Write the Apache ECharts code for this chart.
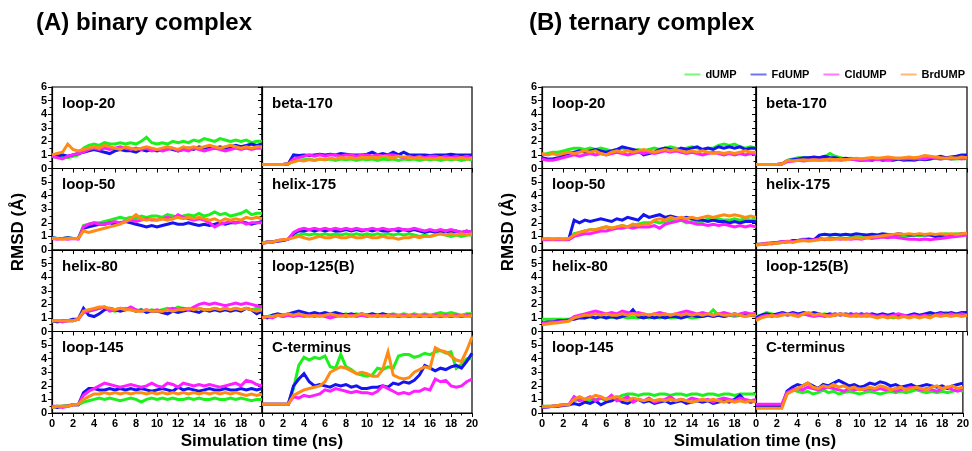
<!DOCTYPE html>
<html>
<head>
<meta charset="utf-8">
<script src="https://cdn.jsdelivr.net/npm/echarts@6/dist/echarts.min.js"></script>
<style>
html,body{margin:0;padding:0;background:#fff;}
#chart{width:972px;height:451px;}
</style>
</head>
<body>
<div id="chart"></div>
<script>
// ---------- data ----------
const time = [0,0.5,1,1.5,2,2.5,3,3.5,4,4.5,5,5.5,6,6.5,7,7.5,8,8.5,9,9.5,10,10.5,11,11.5,12,12.5,13,13.5,14,14.5,15,15.5,16,16.5,17,17.5,18,18.5,19,19.5,20];
const xTicks = [0,2,4,6,8,10,12,14,16,18,20];
const yTicks = [0,1,2,3,4,5,6];
const seriesNames = ['dUMP','FdUMP','CldUMP','BrdUMP'];
const panelNames = ['loop-20','beta-170','loop-50','helix-175','helix-80','loop-125(B)','loop-145','C-terminus'];
const complexTitles = ['(A) binary complex','(B) ternary complex'];

// (A) binary complex
const A_loop20_dUMP   = [0.9,0.8,0.85,0.8,0.9, 1.0,1.5,1.7,1.8,1.7, 1.9,1.8,1.8,1.9,1.8, 1.9,1.8,2.0,2.3,1.9, 1.8,1.9,1.8,2.0,1.9, 2.0,1.9,2.1,2.0,2.2, 2.1,2.0,2.2,2.1,2.0, 2.1,2.0,2.1,1.9,2.0, 2.0];
const A_loop20_FdUMP  = [1.0,0.9,1.0,0.9,1.0, 1.1,1.2,1.3,1.4,1.3, 1.2,1.1,1.3,1.4,1.3, 1.3,1.2,1.4,1.3,1.4, 1.3,1.4,1.5,1.4,1.3, 1.4,1.5,1.4,1.6,1.5, 1.6,1.5,1.6,1.5,1.6, 1.7,1.6,1.7,1.8,1.7, 1.8];
const A_loop20_CldUMP = [0.9,0.8,0.7,0.9,1.0, 1.1,1.2,1.4,1.5,1.4, 1.5,1.4,1.5,1.6,1.5, 1.4,1.5,1.4,1.5,1.3, 1.4,1.3,1.4,1.5,1.3, 1.4,1.3,1.5,1.4,1.3, 1.4,1.5,1.4,1.3,1.4, 1.5,1.4,1.5,1.4,1.5, 1.5];
const A_loop20_BrdUMP = [1.0,1.1,1.2,1.8,1.4, 1.3,1.4,1.5,1.6,1.5, 1.7,1.6,1.5,1.4,1.6, 1.5,1.4,1.5,1.6,1.5, 1.4,1.5,1.6,1.5,1.4, 1.6,1.5,1.6,1.5,1.6, 1.7,1.6,1.5,1.6,1.7, 1.6,1.5,1.6,1.5,1.6, 1.6];

const A_beta170_dUMP   = [0.3,0.3,0.3,0.3,0.3, 0.35,0.5,0.6,0.65,0.7, 0.6,0.7,0.65,0.7,0.6, 0.7,0.65,0.7,0.6,0.7, 0.65,0.7,0.6,0.7,0.65, 0.7,0.6,0.7,0.65,0.7, 0.6,0.7,0.65,0.7,0.6, 0.7,0.65,0.7,0.6,0.7, 0.65];
const A_beta170_FdUMP  = [0.3,0.3,0.3,0.3,0.3, 0.35,1.0,0.95,1.0,0.95, 1.0,1.05,1.0,1.05,1.0, 1.1,1.05,1.0,1.0,1.0, 1.05,1.2,1.0,1.1,1.0, 1.2,1.0,1.2,1.0,1.0, 1.0,1.0,0.95,1.0,1.0, 1.0,1.05,1.0,1.0,1.0, 1.0];
const A_beta170_CldUMP = [0.3,0.3,0.3,0.3,0.3, 0.35,0.7,0.8,0.9,1.0, 0.9,1.0,0.9,1.0,1.0, 0.9,1.0,1.0,0.9,1.0, 1.0,0.9,1.0,0.9,1.0, 1.0,0.9,0.8,0.9,0.8, 0.9,0.8,0.9,0.9,0.8, 0.9,0.8,0.9,0.8,0.9, 0.8];
const A_beta170_BrdUMP = [0.3,0.3,0.3,0.3,0.3, 0.35,0.5,0.6,0.55,0.65, 0.6,0.7,0.65,0.75,0.7, 0.8,0.75,0.8,0.7,0.85, 0.8,0.85,0.8,0.9,0.85, 0.8,0.9,0.85,0.8,0.75, 0.8,0.7,0.75,0.7,0.8, 0.7,0.75,0.7,0.8,0.7, 0.75];

const A_loop50_dUMP   = [0.9,0.85,0.85,0.9,0.85, 0.85,1.8,1.9,2.0,2.0, 2.1,2.2,2.3,2.4,2.3, 2.4,2.3,2.5,2.4,2.5, 2.5,2.4,2.6,2.5,2.4, 2.5,2.6,2.5,2.7,2.5, 2.6,2.8,2.6,2.7,2.5, 2.6,2.7,2.9,2.6,2.7, 2.7];
const A_loop50_FdUMP  = [0.9,0.85,0.85,0.9,0.85, 0.85,1.6,1.7,1.8,1.9, 1.9,2.0,1.9,2.0,2.1, 2.0,1.9,1.8,1.7,1.8, 1.7,1.8,1.9,2.0,1.9, 1.9,2.0,1.9,1.8,1.9, 1.8,1.9,2.0,1.9,2.0, 2.0,2.1,2.0,1.9,2.0, 2.1];
const A_loop50_CldUMP = [0.85,0.8,0.85,0.8,0.85, 0.8,1.7,1.9,2.0,1.9, 1.9,2.0,2.1,2.0,2.1, 2.2,2.1,2.2,2.3,2.2, 2.2,2.3,2.4,2.3,2.6, 2.4,2.3,2.2,2.3,2.2, 2.0,1.7,1.9,2.0,2.1, 2.0,2.1,1.9,2.0,2.0, 2.0];
const A_loop50_BrdUMP = [0.85,0.85,0.8,0.85,0.85, 0.85,1.4,1.3,1.4,1.5, 1.6,1.7,1.8,1.9,2.1, 2.3,2.6,2.3,2.2,2.3, 2.2,2.3,2.2,2.3,2.4, 2.3,2.4,2.3,2.4,2.3, 2.2,2.3,2.1,2.3,2.2, 2.3,2.2,2.4,2.3,2.4, 2.3];

const A_helix175_dUMP   = [0.5,0.6,0.6,0.7,0.7, 0.8,1.0,1.1,1.2,1.1, 1.2,1.1,1.2,1.1,1.2, 1.1,1.2,1.1,1.2,1.1, 1.2,1.1,1.2,1.1,1.2, 1.1,1.2,1.1,1.2,1.1, 1.0,1.1,1.0,1.1,1.2, 1.1,1.0,1.1,1.0,1.1, 1.1];
const A_helix175_FdUMP  = [0.5,0.55,0.6,0.65,0.7, 0.8,1.2,1.4,1.4,1.5, 1.4,1.5,1.4,1.5,1.4, 1.4,1.5,1.4,1.5,1.4, 1.5,1.4,1.5,1.4,1.4, 1.5,1.4,1.5,1.4,1.5, 1.4,1.3,1.4,1.3,1.3, 1.4,1.3,1.4,1.3,1.4, 1.3];
const A_helix175_CldUMP = [0.5,0.6,0.55,0.7,0.75, 0.8,1.3,1.5,1.6,1.5, 1.6,1.5,1.6,1.5,1.6, 1.5,1.6,1.5,1.6,1.5, 1.5,1.6,1.5,1.6,1.5, 1.5,1.6,1.5,1.5,1.6, 1.5,1.4,1.5,1.4,1.5, 1.4,1.5,1.4,1.3,1.4, 1.3];
const A_helix175_BrdUMP = [0.5,0.55,0.6,0.7,0.75, 0.8,0.9,1.0,0.9,0.8, 0.9,1.0,0.9,0.9,1.0, 0.9,0.9,1.0,0.9,0.9, 1.0,0.9,0.9,1.0,0.9, 0.9,0.8,0.9,0.9,1.0, 0.9,1.0,1.0,1.1,1.2, 1.1,1.2,1.1,1.2,1.1, 1.2];

const A_helix80_dUMP   = [0.7,0.8,0.8,0.8,0.8, 0.9,1.5,1.5,1.6,1.7, 1.8,1.6,1.5,1.6,1.7, 1.6,1.5,1.6,1.5,1.6, 1.5,1.6,1.7,1.6,1.8, 1.7,1.7,1.6,1.7,1.6, 1.6,1.7,1.6,1.7,1.6, 1.7,1.6,1.7,1.6,1.7, 1.6];
const A_helix80_FdUMP  = [0.8,0.7,0.8,0.8,0.9, 0.9,1.7,1.2,1.1,1.3, 1.6,1.7,1.6,1.5,1.6, 1.7,1.5,1.6,1.4,1.5, 1.5,1.4,1.3,1.5,1.4, 1.5,1.6,1.5,1.4,1.6, 1.5,1.6,1.5,1.6,1.5, 1.6,1.5,1.7,1.6,1.3, 1.5];
const A_helix80_CldUMP = [0.8,0.8,0.7,0.8,0.8, 0.9,1.4,1.5,1.6,1.7, 1.8,1.5,1.6,1.7,1.6, 1.8,1.6,1.5,1.6,1.5, 1.6,1.5,1.6,1.7,1.6, 1.7,1.6,1.8,2.0,2.1, 2.0,2.1,2.0,1.9,2.0, 2.1,2.0,2.1,2.0,1.9, 1.8];
const A_helix80_BrdUMP = [0.8,0.8,0.8,0.8,0.8, 0.9,1.5,1.6,1.7,1.8, 1.8,1.7,1.6,1.7,1.6, 1.6,1.5,1.5,1.6,1.5, 1.5,1.5,1.6,1.5,1.6, 1.6,1.7,1.6,1.7,1.6, 1.6,1.7,1.6,1.7,1.6, 1.7,1.6,1.7,1.6,1.5, 1.6];

const A_loop125_dUMP   = [1.0,1.1,1.2,1.2,1.1, 1.2,1.3,1.2,1.3,1.2, 1.3,1.2,1.3,1.2,1.3, 1.2,1.3,1.2,1.3,1.2, 1.2,1.3,1.2,1.3,1.2, 1.3,1.2,1.3,1.2,1.3, 1.2,1.3,1.2,1.3,1.4, 1.3,1.4,1.3,1.2,1.3, 1.3];
const A_loop125_FdUMP  = [1.1,1.0,1.2,1.3,1.2, 1.3,1.4,1.5,1.4,1.3, 1.4,1.3,1.4,1.3,1.4, 1.3,1.2,1.3,1.2,1.3, 1.2,1.3,1.2,1.3,1.2, 1.2,1.1,1.2,1.1,1.2, 1.1,1.2,1.1,1.2,1.1, 1.2,1.1,1.2,1.1,1.2, 1.2];
const A_loop125_CldUMP = [1.0,1.1,1.0,1.2,1.1, 1.2,1.1,1.2,1.1,1.2, 1.1,1.2,1.1,1.0,1.1, 1.2,1.1,1.2,1.1,1.2, 1.1,1.2,1.1,1.2,1.1, 1.2,1.1,1.2,1.1,1.2, 1.1,1.2,1.1,1.2,1.1, 1.2,1.1,1.2,1.1,1.2, 1.1];
const A_loop125_BrdUMP = [1.0,1.1,1.1,1.2,1.2, 1.3,1.2,1.3,1.2,1.1, 1.2,1.1,1.2,1.3,1.2, 1.1,1.2,1.1,1.2,1.3, 1.2,1.1,1.2,1.1,1.2, 1.1,1.2,1.1,1.2,1.1, 1.2,1.1,1.2,1.1,1.2, 1.1,1.2,1.1,1.2,1.1, 1.2];

const A_loop145_dUMP   = [0.4,0.5,0.5,0.55,0.6, 0.6,0.8,0.9,1.0,1.1, 1.0,1.1,1.0,0.9,1.0, 1.1,1.0,0.8,1.0,1.1, 1.0,1.1,1.0,1.1,1.0, 1.0,1.1,1.0,1.1,1.0, 1.0,1.1,1.0,1.0,1.1, 1.0,1.1,1.0,0.9,1.0, 1.0];
const A_loop145_FdUMP  = [0.5,0.4,0.5,0.5,0.6, 0.6,1.5,1.8,1.8,1.7, 1.7,1.8,1.7,1.8,1.7, 1.8,1.7,1.8,1.7,1.6, 1.7,1.8,1.7,1.6,1.9, 1.7,1.8,1.7,1.6,1.7, 1.8,1.7,1.7,1.8,1.7, 1.7,1.8,1.7,1.8,1.7, 1.8];
const A_loop145_CldUMP = [0.5,0.5,0.4,0.5,0.6, 0.6,1.3,1.6,1.8,2.0, 2.2,2.1,2.0,1.9,2.0, 2.1,2.0,1.9,2.0,2.2, 2.0,1.9,2.2,2.1,1.9, 2.2,2.1,2.0,2.1,2.0, 2.1,2.0,1.9,2.0,2.1, 2.2,2.0,2.4,2.3,2.1, 2.0];
const A_loop145_BrdUMP = [0.4,0.5,0.5,0.5,0.6, 0.65,1.0,1.2,1.4,1.4, 1.5,1.4,1.5,1.4,1.5, 1.4,1.5,1.5,1.4,1.5, 1.4,1.5,1.4,1.5,1.4, 1.5,1.4,1.5,1.4,1.5, 1.4,1.5,1.4,1.5,1.4, 1.5,1.4,1.3,1.4,1.3, 1.4];

const A_cterm_dUMP   = [0.65,0.65,0.65,0.65,0.65, 0.65,1.8,3.5,4.1,3.9, 4.1,4.0,4.2,3.4,3.3, 4.3,3.4,3.2,2.9,2.8, 2.7,2.8,3.3,3.2,3.4, 3.3,4.2,4.3,4.3,4.1, 4.2,4.4,4.3,4.5,4.6, 4.4,4.5,3.3,3.6,4.0, 4.0];
const A_cterm_FdUMP  = [0.65,0.65,0.65,0.65,0.65, 0.65,2.0,2.5,2.9,2.3, 2.0,2.1,2.0,1.9,2.1, 2.0,2.1,1.9,2.0,1.8, 1.8,1.9,1.9,2.0,1.9, 2.2,2.1,2.3,2.2,2.4, 2.8,3.5,3.3,3.1,3.3, 3.2,3.4,3.5,3.3,3.8, 4.4];
const A_cterm_CldUMP = [0.65,0.65,0.65,0.65,0.65, 0.65,1.2,1.1,1.3,1.2, 1.3,1.4,1.7,1.6,1.8, 1.7,1.6,1.5,1.6,1.5, 1.5,1.4,1.6,2.0,1.8, 1.6,1.4,1.5,1.4,1.6, 1.6,1.8,1.7,2.5,2.3, 2.4,2.0,1.9,2.0,2.3, 2.5];
const A_cterm_BrdUMP = [0.65,0.65,0.65,0.65,0.65, 0.65,1.3,1.5,1.7,1.8, 1.9,2.0,2.3,3.0,3.2, 3.4,3.3,3.1,2.9,3.0, 2.9,2.7,2.7,3.2,4.5, 2.8,2.6,2.5,2.6,3.0, 3.2,3.4,3.3,4.8,4.6, 4.5,4.2,3.9,3.8,4.6, 5.6];

// (B) ternary complex
const B_loop20_dUMP   = [1.0,1.1,1.2,1.2,1.3, 1.4,1.5,1.5,1.4,1.5, 1.4,1.5,1.4,1.3,1.4, 1.5,1.4,1.3,1.4,1.3, 1.4,1.5,1.4,1.5,1.6, 1.5,1.4,1.5,1.6,1.5, 1.4,1.5,1.5,1.7,1.8, 1.7,1.8,1.6,1.5,1.6, 1.5];
const B_loop20_FdUMP  = [0.8,0.7,0.7,0.8,1.0, 1.1,1.2,1.3,1.2,1.3, 1.4,1.3,1.2,1.3,1.4, 1.6,1.5,1.4,1.3,1.0, 1.1,1.2,1.4,1.5,1.4, 1.3,1.5,1.4,1.5,1.6, 1.4,1.5,1.4,1.6,1.5, 1.6,1.5,1.6,1.4,1.5, 1.5];
const B_loop20_CldUMP = [0.7,0.6,0.6,0.7,0.8, 0.9,1.0,0.9,1.0,1.1, 1.0,1.1,1.0,1.1,1.2, 1.1,1.0,1.1,1.2,1.1, 1.2,1.1,1.2,1.3,1.2, 1.3,1.2,1.1,1.2,1.1, 1.0,1.1,1.2,1.1,1.0, 1.1,1.0,1.1,1.0,1.1, 1.0];
const B_loop20_BrdUMP = [1.1,1.0,1.1,1.0,1.1, 1.2,1.1,1.2,1.3,1.2, 1.3,1.1,1.0,1.2,1.3, 1.2,1.3,1.2,1.3,1.4, 1.3,1.2,1.3,1.4,1.3, 1.4,1.3,1.2,1.3,1.2, 1.3,1.2,1.1,1.2,1.1, 1.2,1.1,1.2,1.3,1.2, 1.2];

const B_beta170_dUMP   = [0.3,0.3,0.3,0.3,0.3, 0.35,0.6,0.7,0.8,0.8, 0.8,0.75,0.8,0.85,1.1, 0.9,0.8,0.7,0.75,0.7, 0.7,0.75,0.7,0.75,0.7, 0.7,0.75,0.7,0.75,0.7, 0.7,0.75,0.7,0.7,0.75, 0.7,0.75,0.7,0.7,0.75, 0.7];
const B_beta170_FdUMP  = [0.3,0.3,0.3,0.3,0.3, 0.35,0.6,0.65,0.7,0.8, 0.8,0.85,0.8,0.9,0.8, 0.8,0.7,0.75,0.7,0.65, 0.6,0.65,0.6,0.7,0.6, 0.65,0.6,0.7,0.6,0.65, 0.6,0.7,0.65,0.7,0.8, 0.9,0.8,0.85,0.9,1.0, 1.0];
const B_beta170_CldUMP = [0.3,0.3,0.3,0.3,0.3, 0.35,0.5,0.55,0.6,0.55, 0.6,0.65,0.6,0.65,0.6, 0.65,0.6,0.65,0.7,0.65, 0.6,0.65,0.7,0.65,0.7, 0.65,0.7,0.75,0.7,0.75, 0.7,0.75,0.7,0.8,0.75, 0.7,0.75,0.7,0.75,0.7, 0.75];
const B_beta170_BrdUMP = [0.3,0.3,0.3,0.3,0.3, 0.35,0.6,0.55,0.6,0.65, 0.6,0.65,0.6,0.65,0.7, 0.65,0.7,0.65,0.7,0.75, 0.7,0.75,0.8,0.75,0.8, 0.85,0.8,0.75,0.8,0.85, 0.8,0.85,0.95,0.9,0.85, 0.8,0.75,0.8,0.75,0.85, 0.8];

const B_loop50_dUMP   = [0.8,0.8,0.8,0.8,0.8, 0.8,1.2,1.3,1.4,1.5, 1.5,1.6,1.7,1.6,1.7, 1.8,1.7,1.8,1.9,2.0, 2.0,2.1,2.0,2.1,2.2, 2.1,2.2,2.0,2.1,2.0, 2.1,2.3,2.2,2.3,2.2, 2.2,2.3,2.2,2.3,2.2, 2.3];
const B_loop50_FdUMP  = [0.8,0.8,0.8,0.8,0.8, 0.8,2.2,2.0,2.2,2.1, 2.2,2.3,2.2,2.1,2.3, 2.2,2.4,2.3,2.2,2.6, 2.4,2.5,2.6,2.4,2.5, 2.4,2.3,2.4,2.3,2.2, 2.2,2.1,2.2,2.1,2.1, 2.0,2.1,2.0,2.1,2.1, 2.1];
const B_loop50_CldUMP = [0.75,0.75,0.75,0.75,0.75, 0.75,1.0,1.1,1.2,1.2, 1.3,1.4,1.4,1.5,1.6, 1.6,1.7,1.6,1.7,1.7, 1.7,1.8,1.6,1.9,2.0, 2.1,2.2,2.1,2.0,1.9, 1.9,1.8,1.9,1.8,1.9, 1.8,1.7,1.8,1.7,1.8, 1.7];
const B_loop50_BrdUMP = [0.8,0.85,0.8,0.85,0.8, 0.85,1.1,1.3,1.4,1.5, 1.5,1.6,1.7,1.6,1.7, 1.8,1.7,1.9,1.8,1.9, 1.9,2.2,2.3,2.2,2.4, 2.3,2.4,2.3,2.4,2.3, 2.4,2.5,2.4,2.5,2.6, 2.5,2.6,2.5,2.4,2.5, 2.4];

const B_helix175_dUMP   = [0.4,0.45,0.5,0.55,0.5, 0.55,0.6,0.65,0.7,0.8, 0.75,0.8,0.9,0.8,0.9, 0.85,0.9,0.85,0.9,0.95, 0.9,0.95,0.9,1.0,0.95, 1.0,0.95,1.05,1.0,1.05, 1.1,1.05,1.1,1.15,1.1, 1.15,1.2,1.15,1.2,1.15, 1.2];
const B_helix175_FdUMP  = [0.4,0.4,0.45,0.5,0.55, 0.6,0.6,0.7,0.7,0.75, 0.8,0.75,1.1,1.15,1.1, 1.15,1.1,1.15,1.1,1.2, 1.15,1.1,1.15,1.1,1.2, 1.15,1.1,1.2,1.15,1.1, 1.1,1.15,1.1,1.1,1.0, 1.05,1.1,1.05,1.1,1.2, 1.2];
const B_helix175_CldUMP = [0.4,0.45,0.5,0.45,0.55, 0.6,0.65,0.6,0.7,0.75, 0.7,0.75,0.8,0.75,0.8, 0.85,0.8,0.85,0.8,0.85, 0.8,0.9,0.85,0.9,0.95, 0.9,0.95,0.9,0.85,0.8, 0.8,0.75,0.8,0.75,0.8, 0.85,0.9,0.95,1.0,1.05, 1.1];
const B_helix175_BrdUMP = [0.35,0.4,0.45,0.5,0.5, 0.55,0.6,0.55,0.65,0.7, 0.65,0.7,0.75,0.8,0.75, 0.8,0.85,0.8,0.85,0.9, 0.85,0.9,0.95,1.0,1.05, 1.1,1.15,1.2,1.15,1.2, 1.15,1.2,1.15,1.2,1.15, 1.2,1.15,1.2,1.15,1.2, 1.25];

const B_helix80_dUMP   = [0.9,0.9,0.9,0.9,0.9, 0.9,1.0,1.1,1.0,1.1, 1.0,1.1,1.0,1.05,1.0, 1.1,1.0,1.05,1.0,1.1, 1.0,1.05,1.0,1.1,1.0, 1.05,1.0,1.1,1.0,1.05, 1.1,1.2,1.6,1.2,1.1, 1.2,1.1,1.2,1.1,1.2, 1.1];
const B_helix80_FdUMP  = [0.6,0.7,0.7,0.8,0.8, 0.85,0.9,1.0,1.0,1.1, 1.0,1.1,1.0,1.1,1.0, 1.1,1.2,1.6,1.1,1.0, 1.1,1.0,1.1,1.0,1.1, 1.1,1.0,1.1,1.2,1.1, 1.1,1.2,1.1,1.2,1.1, 1.2,1.3,1.2,1.3,1.2, 1.2];
const B_helix80_CldUMP = [0.6,0.65,0.7,0.7,0.75, 0.8,1.1,1.2,1.3,1.4, 1.5,1.4,1.3,1.4,1.3, 1.5,1.4,1.3,1.4,1.3, 1.2,1.3,1.4,1.3,1.2, 1.3,1.4,1.5,1.4,1.3, 1.4,1.3,1.2,1.3,1.4, 1.3,1.2,1.3,1.4,1.3, 1.3];
const B_helix80_BrdUMP = [0.5,0.55,0.6,0.65,0.7, 0.75,1.0,1.1,1.2,1.2, 1.3,1.2,1.3,1.2,1.2, 1.3,1.2,1.3,1.2,1.3, 1.2,1.3,1.2,1.3,1.2, 1.3,1.2,1.3,1.2,1.3, 1.2,1.3,1.2,1.3,1.2, 1.2,1.3,1.2,1.1,1.2, 1.2];

const B_loop125_dUMP   = [1.1,1.2,1.4,1.3,1.2, 1.3,1.2,1.3,1.2,1.3, 1.2,1.3,1.2,1.3,1.2, 1.3,1.2,1.3,1.2,1.1, 1.2,1.1,1.2,1.1,1.2, 1.1,1.0,1.1,1.2,1.1, 1.2,1.1,1.2,1.3,1.2, 1.3,1.4,1.3,1.2,1.3, 1.3];
const B_loop125_FdUMP  = [1.0,1.2,1.3,1.2,1.3, 1.4,1.3,1.4,1.3,1.4, 1.3,1.4,1.3,1.2,1.3, 1.2,1.3,1.2,1.3,1.2, 1.3,1.2,1.3,1.2,1.3, 1.2,1.3,1.2,1.1,1.2, 1.3,1.2,1.3,1.4,1.3, 1.4,1.3,1.4,1.3,1.4, 1.4];
const B_loop125_CldUMP = [0.9,1.1,1.2,1.1,1.2, 1.3,1.2,1.3,1.2,1.3, 1.2,1.1,1.2,1.1,1.2, 1.3,1.2,1.3,1.2,1.3, 1.2,1.3,1.2,1.1,1.2, 1.1,1.2,1.3,1.2,1.1, 1.2,1.1,1.2,1.1,1.2, 1.3,1.2,1.3,1.2,1.3, 1.2];
const B_loop125_BrdUMP = [0.8,1.0,1.1,1.2,1.1, 1.2,1.3,1.2,1.1,1.3, 1.4,1.2,1.3,1.2,1.1, 1.2,1.3,1.2,1.1,1.2, 1.1,1.2,1.1,1.0,1.1, 1.0,1.1,1.0,1.1,1.0, 1.1,1.0,1.1,1.0,1.2, 1.1,1.2,1.1,1.2,1.1, 1.2];

const B_loop145_dUMP   = [0.5,0.5,0.5,0.55,0.6, 0.6,0.9,1.0,1.0,0.9, 1.0,1.1,0.9,1.0,1.1, 1.3,1.4,1.4,1.3,1.4, 1.4,1.3,1.4,1.4,1.3, 1.4,1.4,1.3,1.4,1.4, 1.3,1.4,1.4,1.3,1.4, 1.4,1.3,1.4,1.4,1.4, 1.4];
const B_loop145_FdUMP  = [0.4,0.45,0.5,0.5,0.55, 0.6,0.7,0.6,0.8,0.7, 0.9,0.6,0.8,0.9,1.1, 0.8,0.7,0.9,1.0,0.8, 0.9,0.7,0.8,0.9,0.7, 0.8,0.9,0.7,0.8,0.9, 0.8,0.9,0.7,0.8,0.9, 0.8,1.0,1.3,0.9,0.8, 0.9];
const B_loop145_CldUMP = [0.5,0.45,0.5,0.55,0.6, 0.6,1.2,0.9,1.0,1.2, 0.9,1.1,1.0,1.3,0.9, 1.0,1.2,0.8,1.0,0.9, 1.1,0.8,0.9,1.0,1.2, 0.9,1.0,0.9,1.1,1.0, 0.9,1.0,0.8,1.0,1.1, 1.0,0.9,1.1,1.0,0.9, 1.0];
const B_loop145_BrdUMP = [0.45,0.5,0.5,0.55,0.6, 0.6,1.0,1.2,1.0,1.1, 1.3,1.2,1.0,1.1,1.2, 1.0,0.9,1.1,1.0,0.9, 1.0,0.9,1.0,0.9,1.0, 0.9,1.0,0.9,0.8,0.9, 1.0,0.9,1.0,0.9,0.8, 0.9,0.8,0.9,0.8,0.9, 0.8];

const B_cterm_dUMP   = [0.45,0.45,0.45,0.45,0.45, 0.45,1.4,1.7,1.6,1.5, 1.6,1.4,1.5,1.7,1.5, 1.6,1.4,1.5,1.6,1.5, 1.4,1.5,1.6,1.5,1.4, 1.5,1.6,1.5,1.6,1.5, 1.6,1.7,1.6,1.5,1.6, 1.5,1.6,1.5,1.6,1.7, 1.6];
const B_cterm_FdUMP  = [0.5,0.5,0.5,0.5,0.5, 0.5,1.6,1.9,2.1,2.0, 2.2,2.0,1.8,2.1,2.0, 2.2,2.4,2.2,2.0,2.1, 1.9,2.0,2.2,2.1,2.3, 2.2,2.0,2.1,1.9,2.0, 2.1,1.9,2.0,2.1,2.0, 1.9,2.0,1.8,2.0,2.1, 2.2];
const B_cterm_CldUMP = [0.65,0.65,0.65,0.65,0.65, 0.65,1.5,1.7,1.8,1.7, 1.9,1.8,1.7,1.8,1.9, 1.8,1.7,1.6,1.8,1.7, 1.8,1.7,1.8,1.7,1.8, 1.7,1.8,1.6,1.7,1.8, 1.9,1.8,1.7,1.8,1.7, 1.6,1.8,1.9,1.7,1.6, 1.8];
const B_cterm_BrdUMP = [0.35,0.35,0.35,0.35,0.35, 0.35,1.4,1.6,1.8,2.0, 2.2,1.9,1.8,2.0,1.9, 2.1,1.9,2.0,1.8,1.9, 1.7,1.8,1.9,1.8,2.0, 1.9,1.7,1.8,1.9,1.7, 1.8,1.9,1.8,1.7,1.9, 2.0,1.8,1.9,2.0,1.8, 1.9];

const panelData = [
  [
    [A_loop20_dUMP, A_loop20_FdUMP, A_loop20_CldUMP, A_loop20_BrdUMP],
    [A_beta170_dUMP, A_beta170_FdUMP, A_beta170_CldUMP, A_beta170_BrdUMP],
    [A_loop50_dUMP, A_loop50_FdUMP, A_loop50_CldUMP, A_loop50_BrdUMP],
    [A_helix175_dUMP, A_helix175_FdUMP, A_helix175_CldUMP, A_helix175_BrdUMP],
    [A_helix80_dUMP, A_helix80_FdUMP, A_helix80_CldUMP, A_helix80_BrdUMP],
    [A_loop125_dUMP, A_loop125_FdUMP, A_loop125_CldUMP, A_loop125_BrdUMP],
    [A_loop145_dUMP, A_loop145_FdUMP, A_loop145_CldUMP, A_loop145_BrdUMP],
    [A_cterm_dUMP, A_cterm_FdUMP, A_cterm_CldUMP, A_cterm_BrdUMP]
  ],
  [
    [B_loop20_dUMP, B_loop20_FdUMP, B_loop20_CldUMP, B_loop20_BrdUMP],
    [B_beta170_dUMP, B_beta170_FdUMP, B_beta170_CldUMP, B_beta170_BrdUMP],
    [B_loop50_dUMP, B_loop50_FdUMP, B_loop50_CldUMP, B_loop50_BrdUMP],
    [B_helix175_dUMP, B_helix175_FdUMP, B_helix175_CldUMP, B_helix175_BrdUMP],
    [B_helix80_dUMP, B_helix80_FdUMP, B_helix80_CldUMP, B_helix80_BrdUMP],
    [B_loop125_dUMP, B_loop125_FdUMP, B_loop125_CldUMP, B_loop125_BrdUMP],
    [B_loop145_dUMP, B_loop145_FdUMP, B_loop145_CldUMP, B_loop145_BrdUMP],
    [B_cterm_dUMP, B_cterm_FdUMP, B_cterm_CldUMP, B_cterm_BrdUMP]
  ]
];

// ---------- layout / style ----------
const colors = ['#1ef01e','#1414f0','#ff1eff','#ff8a14'];
const FONT = 'Liberation Sans, Arial, Helvetica, sans-serif';
const colLeft = [[52,262],[542,756]];
const colWidth = [[210,210],[214,211]];
const rowTop0 = 87, rowH = 81.5;

const grids = [], xAxes = [], yAxes = [], series = [], graphics = [];
let gi = 0;
for (let c = 0; c < 2; c++) {
  for (let p = 0; p < 8; p++) {
    const row = Math.floor(p / 2), col = p % 2;
    const left = colLeft[c][col], width = colWidth[c][col];
    const top = rowTop0 + row * rowH;
    grids.push({left: left, top: top, width: width, height: rowH, show: true,
      borderColor: '#000', borderWidth: 1.2, backgroundColor: 'transparent', containLabel: false});
    xAxes.push({
      type: 'value', gridIndex: gi, min: 0, max: 20, interval: 2,
      axisLine: {show: true, onZero: false, lineStyle: {color: '#000', width: 1.2}},
      axisTick: {show: true, length: 4, lineStyle: {color: '#000'}},
      minorTick: {show: true, splitNumber: 2, length: 2.5, lineStyle: {color: '#000'}},
      splitLine: {show: false},
      axisLabel: {show: row === 3, margin: 5, color: '#000', fontWeight: 'bold', fontSize: 11, fontFamily: FONT,
        formatter: (function(cc){ return function(v){ return (cc === 0 && v === 20) ? '' : (xTicks.indexOf(v) >= 0 ? String(v) : ''); }; })(col)}
    });
    yAxes.push({
      type: 'value', gridIndex: gi, min: 0, max: 6, interval: 1,
      axisLine: {show: true, onZero: false, lineStyle: {color: '#000', width: 1.2}},
      axisTick: {show: true, length: 4, lineStyle: {color: '#000'}},
      minorTick: {show: true, splitNumber: 2, length: 2.5, lineStyle: {color: '#000'}},
      splitLine: {show: false},
      axisLabel: {show: col === 0, margin: 5, color: '#000', fontWeight: 'bold', fontSize: 11, fontFamily: FONT,
        formatter: (function(rr){ return function(v){ return (rr > 0 && v === 6) ? '' : (yTicks.indexOf(v) >= 0 ? String(v) : ''); }; })(row)}
    });
    for (let s = 0; s < 4; s++) {
      const vals = panelData[c][p][s];
      series.push({
        name: seriesNames[s], type: 'line', xAxisIndex: gi, yAxisIndex: gi,
        showSymbol: false, symbol: 'none', animation: false, z: 2 + s,
        lineStyle: {color: colors[s], width: 3, join: 'miter'},
        itemStyle: {color: colors[s]},
        data: time.map((t, k) => [t, vals[k]])
      });
    }
    graphics.push({type: 'text', left: left + 10, top: top + 9, z: 100,
      style: {text: panelNames[p], fill: '#000', font: 'bold 15px ' + FONT}});
    gi++;
  }
}

// titles and axis names
graphics.push({type: 'text', left: 36, top: 11, style: {text: complexTitles[0], fill: '#000', font: 'bold 24px ' + FONT}});
graphics.push({type: 'text', left: 529, top: 11, style: {text: complexTitles[1], fill: '#000', font: 'bold 24px ' + FONT}});
graphics.push({type: 'text', x: 262, y: 441, style: {text: 'Simulation time (ns)', fill: '#000', font: 'bold 17px ' + FONT, align: 'center', verticalAlign: 'middle'}});
graphics.push({type: 'text', x: 755, y: 441, style: {text: 'Simulation time (ns)', fill: '#000', font: 'bold 17px ' + FONT, align: 'center', verticalAlign: 'middle'}});
graphics.push({type: 'text', x: 18, y: 232, rotation: Math.PI / 2, style: {text: 'RMSD (Å)', fill: '#000', font: 'bold 17px ' + FONT, align: 'center', verticalAlign: 'middle'}});
graphics.push({type: 'text', x: 508, y: 232, rotation: Math.PI / 2, style: {text: 'RMSD (Å)', fill: '#000', font: 'bold 17px ' + FONT, align: 'center', verticalAlign: 'middle'}});

const chart = echarts.init(document.getElementById('chart'), null, {renderer: 'canvas'});
chart.setOption({
  animation: false,
  backgroundColor: '#fff',
  color: colors,
  legend: {
    data: seriesNames, right: 2, top: 64, itemGap: 14, itemWidth: 16, itemHeight: 2, icon: 'rect',
    textStyle: {color: '#000', fontWeight: 'bold', fontSize: 11, fontFamily: FONT},
    itemStyle: {opacity: 0.6}
  },
  grid: grids,
  xAxis: xAxes,
  yAxis: yAxes,
  series: series,
  graphic: graphics
});
</script>
</body>
</html>
